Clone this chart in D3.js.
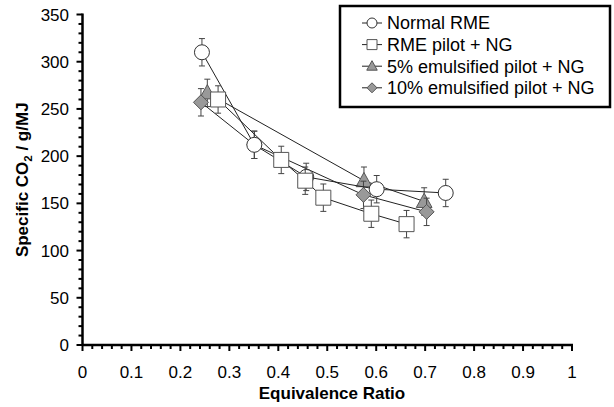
<!DOCTYPE html>
<html>
<head>
<meta charset="utf-8">
<script src="https://cdn.jsdelivr.net/npm/d3@7"></script>
<style>
  body { margin: 0; background: #fff; }
  text { font-family: "Liberation Sans", Arial, sans-serif; fill: #000; }
</style>
</head>
<body>
<svg id="chart" width="614" height="407"></svg>
<script>
// Specific CO2 emissions vs equivalence ratio, four fuelling modes
const seriesNames = ["Normal RME", "RME pilot + NG", "5% emulsified pilot + NG", "10% emulsified pilot + NG"];
const normalX = [0.244, 0.351, 0.457, 0.601, 0.742];
const normalY = [310, 212, 178, 165, 161];
const rmeX = [0.277, 0.406, 0.455, 0.492, 0.590, 0.662];
const rmeY = [260, 196, 174, 156, 139, 128];
const em5X = [0.255, 0.575, 0.698];
const em5Y = [267, 174, 152];
const em10X = [0.242, 0.351, 0.574, 0.703];
const em10Y = [257, 212, 159, 141];
const errHalf = 14.5;
const xTickValues = [0, 0.1, 0.2, 0.3, 0.4, 0.5, 0.6, 0.7, 0.8, 0.9, 1];
const xTickLabels = ["0", "0.1", "0.2", "0.3", "0.4", "0.5", "0.6", "0.7", "0.8", "0.9", "1"];
const yTickValues = [0, 50, 100, 150, 200, 250, 300, 350];

const svg = d3.select("#chart");
const x = d3.scaleLinear().domain([0, 1]).range([82.5, 572]);
const y = d3.scaleLinear().domain([0, 350]).range([345, 14.5]);

const zip = (xs, ys) => xs.map((v, i) => ({ x: v, y: ys[i] }));
const series = [
  { name: seriesNames[0], pts: zip(normalX, normalY), shape: "circle", fill: "#fff", stroke: "#333", z: 2 },
  { name: seriesNames[1], pts: zip(rmeX, rmeY), shape: "square", fill: "#fff", stroke: "#555", z: 3 },
  { name: seriesNames[2], pts: zip(em5X, em5Y), shape: "triangle", fill: "#999", stroke: "#555", z: 0 },
  { name: seriesNames[3], pts: zip(em10X, em10Y), shape: "diamond", fill: "#999", stroke: "#555", z: 1 }
];

// marker outline centred on the origin, s = box size
function markerPath(shape, s) {
  const h = s / 2;
  if (shape === "circle") return d3.symbol(d3.symbolCircle, Math.PI * h * h)();
  if (shape === "square") return `M${-h},${-h}H${h}V${h}H${-h}Z`;
  if (shape === "triangle") return `M0,${-h * 1.1}L${h * 1.05},${h * 0.8}L${-h * 1.05},${h * 0.8}Z`;
  return `M0,${-h}L${h},0L0,${h}L${-h},0Z`;
}

// axes
const axisG = svg.append("g");
const minorX = d3.range(0, 51).map(i => i / 50);
axisG.selectAll(".mx").data(minorX).join("line")
  .attr("x1", d => x(d)).attr("x2", d => x(d))
  .attr("y1", y(0)).attr("y2", d => y(0) + (Math.round(d * 50) % 5 === 0 ? 6 : 4))
  .attr("stroke", "#000").attr("stroke-width", 2);
const minorY = d3.range(0, 36).map(i => i * 10);
axisG.selectAll(".my").data(minorY).join("line")
  .attr("y1", d => y(d)).attr("y2", d => y(d))
  .attr("x1", x(0)).attr("x2", d => x(0) - (d % 50 === 0 ? 6 : 4))
  .attr("stroke", "#000").attr("stroke-width", 2);
axisG.append("line").attr("x1", x(0)).attr("x2", x(1) + 1).attr("y1", y(0)).attr("y2", y(0))
  .attr("stroke", "#000").attr("stroke-width", 2.5);
axisG.append("line").attr("x1", x(0)).attr("x2", x(0)).attr("y1", y(0) + 1).attr("y2", y(350) - 1)
  .attr("stroke", "#000").attr("stroke-width", 2.5);

axisG.selectAll(".xl").data(xTickValues).join("text")
  .attr("x", d => x(d)).attr("y", 378).attr("text-anchor", "middle")
  .attr("font-size", 17).text((d, i) => xTickLabels[i]);
axisG.selectAll(".yl").data(yTickValues).join("text")
  .attr("x", 69).attr("y", d => y(d) + 6).attr("text-anchor", "end")
  .attr("font-size", 17).text(d => d);

svg.append("text").attr("x", 332).attr("y", 399).attr("text-anchor", "middle")
  .attr("font-size", 17).attr("font-weight", "bold").text("Equivalence Ratio");

const yTitle = svg.append("text").attr("transform", `translate(28,${(y(0) + y(350)) / 2}) rotate(-90)`)
  .attr("text-anchor", "middle").attr("font-size", 17).attr("font-weight", "bold");
yTitle.append("tspan").text("Specific CO");
yTitle.append("tspan").attr("font-size", 11.5).attr("dy", 4).text("2");
yTitle.append("tspan").attr("dy", -4).text(" / g/MJ");

// data series: line, error bars, markers (stacked by z)
const line = d3.line().x(d => x(d.x)).y(d => y(d.y));
const plot = svg.append("g");
series.slice().sort((a, b) => a.z - b.z).forEach(s => {
  const g = plot.append("g");
  g.append("path").attr("d", line(s.pts)).attr("fill", "none").attr("stroke", "#222").attr("stroke-width", 1);
  const eb = g.selectAll(".eb").data(s.pts).join("g");
  eb.append("line").attr("x1", d => x(d.x)).attr("x2", d => x(d.x))
    .attr("y1", d => y(d.y - errHalf)).attr("y2", d => y(d.y + errHalf))
    .attr("stroke", "#444").attr("stroke-width", 1);
  [-1, 1].forEach(sg => {
    eb.append("line").attr("x1", d => x(d.x) - 3).attr("x2", d => x(d.x) + 3)
      .attr("y1", d => y(d.y + sg * errHalf)).attr("y2", d => y(d.y + sg * errHalf))
      .attr("stroke", "#444").attr("stroke-width", 1);
  });
  g.selectAll(".mk").data(s.pts).join("path")
    .attr("d", markerPath(s.shape, 15))
    .attr("transform", d => `translate(${x(d.x)},${y(d.y)})`)
    .attr("fill", s.fill).attr("stroke", s.stroke).attr("stroke-width", 1);
});

// legend
const lg = svg.append("g");
lg.append("rect").attr("x", 340).attr("y", 6).attr("width", 270).attr("height", 101)
  .attr("fill", "#fff").attr("stroke", "#000").attr("stroke-width", 2.5);
series.forEach((s, i) => {
  const cy = 23 + i * 21.6;
  lg.append("line").attr("x1", 362).attr("x2", 382).attr("y1", cy).attr("y2", cy)
    .attr("stroke", "#222").attr("stroke-width", 1);
  lg.append("path").attr("d", markerPath(s.shape, 10)).attr("transform", `translate(372,${cy})`)
    .attr("fill", s.fill).attr("stroke", s.stroke).attr("stroke-width", 1);
  lg.append("text").attr("x", 387).attr("y", cy + 6.3).attr("font-size", 18).text(s.name);
});
</script>
</body>
</html>
